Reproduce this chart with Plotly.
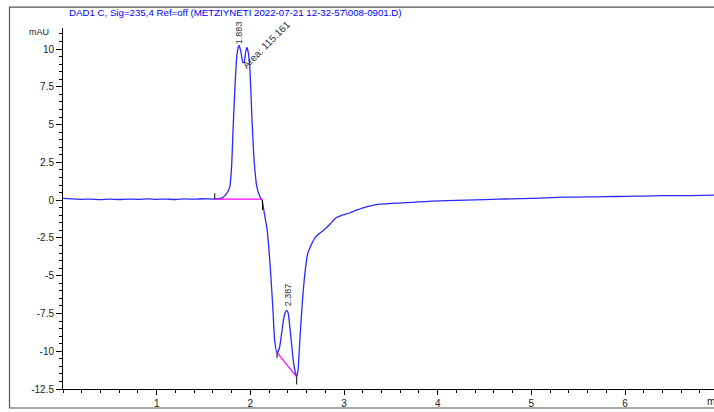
import plotly.graph_objects as go

# ---- chromatogram data (time in min, signal in mAU) ----
time_min = [0.00, 0.10, 0.20, 0.30, 0.40, 0.50, 0.60, 0.70, 0.80, 0.90,
            1.00, 1.10, 1.20, 1.30, 1.40, 1.50, 1.60, 1.65, 1.70, 1.75,
            1.78, 1.80, 1.815, 1.836, 1.858, 1.880, 1.90, 1.92, 1.935, 1.95,
            1.965, 1.98, 1.996, 2.018, 2.04, 2.07, 2.10, 2.125, 2.15, 2.18,
            2.21, 2.24, 2.26, 2.285, 2.31, 2.33, 2.355, 2.375, 2.39, 2.405,
            2.42, 2.44, 2.46, 2.48, 2.495, 2.51, 2.53, 2.555, 2.58, 2.61,
            2.64, 2.69, 2.74, 2.79, 2.85, 2.91, 2.98, 3.05, 3.14, 3.23,
            3.30, 3.37, 3.50, 3.66, 3.80, 3.94, 4.10, 4.30, 4.50, 4.65,
            4.80, 5.00, 5.15, 5.33, 5.50, 5.70, 5.90, 6.10, 6.30, 6.50,
            6.70, 6.95]
signal_mau = [0.12, 0.08, 0.05, 0.07, 0.03, 0.06, 0.04, 0.07, 0.05, 0.08,
              0.05, 0.07, 0.04, 0.08, 0.06, 0.09, 0.07, 0.08, 0.15, 0.46,
              0.86, 2.2, 4.6, 7.5, 9.7, 10.26, 9.8, 9.1, 9.15, 9.8,
              10.1, 9.7, 8.6, 5.3, 2.65, 0.86, 0.25, 0.0, -0.9, -2.0,
              -4.2, -7.1, -9.3, -10.1, -9.8, -9.0, -7.9, -7.4, -7.3, -7.5,
              -8.3, -9.5, -10.7, -11.4, -11.7, -11.2, -9.1, -6.8, -5.0, -3.6,
              -3.1, -2.5, -2.2, -1.95, -1.6, -1.2, -1.0, -0.87, -0.65, -0.46,
              -0.36, -0.27, -0.22, -0.17, -0.12, -0.07, -0.04, 0.0, 0.03, 0.07,
              0.08, 0.12, 0.15, 0.2, 0.2, 0.22, 0.24, 0.26, 0.28, 0.3,
              0.3, 0.33]

# integration baselines
base1_t = [1.62, 2.13]
base1_v = [0.07, 0.07]
base2_t = [2.285, 2.495]
base2_v = [-10.1, -11.7]

# integration event tick marks (time, from, to)
event_t = [1.62, 2.13, 2.285, 2.495]
event_v0 = [0.07, 0.0, -10.1, -11.7]
event_v1 = [0.45, -0.66, -10.45, -12.2]

# peak annotations
peak_labels = ["1.883", "Area: 115.161", "2.387"]
peak_label_t = [1.879, 2.172, 2.402]
peak_label_v = [11.05, 10.3, -6.23]
peak_label_angle = [-90, -45, -90]
peak_label_size = [9, 10, 9]

# axes
x_ticks = [1, 2, 3, 4, 5, 6]
x_tick_labels = ["1", "2", "3", "4", "5", "6"]
y_ticks = [-12.5, -10, -7.5, -5, -2.5, 0, 2.5, 5, 7.5, 10]
y_tick_labels = ["-12.5", "-10", "-7.5", "-5", "-2.5", "0", "2.5", "5", "7.5", "10"]

title_text = "DAD1 C, Sig=235,4 Ref=off (METZIYNETI 2022-07-21 12-32-57\\008-0901.D)"

FONT = "Liberation Sans, Arial, sans-serif"

fig = go.Figure()
fig.add_trace(go.Scatter(x=time_min, y=signal_mau, mode="lines",
                         line=dict(color="#2a2aff", width=1.3, shape="spline", smoothing=0.5),
                         hoverinfo="skip", showlegend=False))
fig.add_trace(go.Scatter(x=base1_t, y=base1_v, mode="lines",
                         line=dict(color="#ff00ff", width=1.2), showlegend=False))
fig.add_trace(go.Scatter(x=base2_t, y=base2_v, mode="lines",
                         line=dict(color="#ff00ff", width=1.2), showlegend=False))

ex, ey = [], []
for t, a, b in zip(event_t, event_v0, event_v1):
    ex += [t, t, None]
    ey += [a, b, None]
fig.add_trace(go.Scatter(x=ex, y=ey, mode="lines",
                         line=dict(color="black", width=1), showlegend=False))

for txt, t, v, ang, sz in zip(peak_labels, peak_label_t, peak_label_v, peak_label_angle, peak_label_size):
    fig.add_annotation(x=t, y=v, text=txt, textangle=ang, showarrow=False,
                       xanchor="center", yanchor="middle",
                       font=dict(family=FONT, size=sz, color="#333333"))

# title and unit labels
fig.add_annotation(xref="paper", yref="paper", x=0.006, y=1.0416, text=title_text,
                   showarrow=False, xanchor="left", yanchor="middle",
                   font=dict(family=FONT, size=9.7, color="#0000ff"))
fig.add_annotation(xref="paper", yref="paper", x=-0.018, y=0.99, text="mAU",
                   showarrow=False, xanchor="right", yanchor="middle",
                   font=dict(family=FONT, size=9, color="#222222"))
fig.add_annotation(xref="paper", yref="paper", x=0.986, y=-0.036, text="min",
                   showarrow=False, xanchor="left", yanchor="middle",
                   font=dict(family=FONT, size=10, color="#222222"))

# outer frame
fig.add_shape(type="rect", xref="paper", yref="paper",
              x0=-0.0822, x1=1.02, y0=-0.0526, y1=1.058,
              line=dict(color="#555555", width=1.2), fillcolor="rgba(0,0,0,0)", layer="above")

axis_common = dict(showline=True, linecolor="black", linewidth=1, ticks="outside",
                   tickcolor="black", showgrid=False, zeroline=False,
                   tickfont=dict(family=FONT, size=10, color="#222222"))

fig.update_xaxes(range=[0, 6.95], tickmode="array", tickvals=x_ticks, ticktext=x_tick_labels,
                 ticklen=5, minor=dict(dtick=0.2, tick0=0, ticks="outside", ticklen=3,
                                       tickcolor="black", showgrid=False),
                 **axis_common)
fig.update_yaxes(range=[-12.5, 11.39], tickmode="array", tickvals=y_ticks, ticktext=y_tick_labels,
                 ticklen=6, minor=dict(dtick=0.5, tick0=0, ticks="outside", ticklen=3,
                                       tickcolor="black", showgrid=False),
                 **axis_common)

fig.update_layout(width=714, height=412, margin=dict(l=63, r=0, t=28, b=23),
                  paper_bgcolor="white", plot_bgcolor="white", showlegend=False)

fig.write_html("out.html", config={"displayModeBar": False},
               post_script="document.body.style.margin='0';document.body.style.overflow='hidden';")
